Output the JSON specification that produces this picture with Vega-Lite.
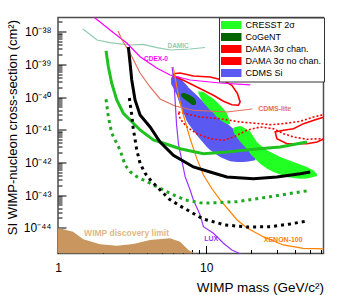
{
"$schema": "https://vega.github.io/schema/vega-lite/v6.json",
"width": 265.5, "height": 236,
"autosize": {"type": "none"},
"padding": {"left": 58, "top": 17.5, "right": 14.5, "bottom": 41.5},
"background": "white",
"config": {"font": "Liberation Sans", "view": {"stroke": "#4d4d4d", "strokeWidth": 1.5}},
"datasets": {
"wimp": [{"m":1.0,"s":9.60e-45},{"m":1.086,"s":8.95e-45},{"m":1.263,"s":7.55e-45},{"m":1.483,"s":4.42e-45},{"m":1.922,"s":3.11e-45},{"m":2.493,"s":2.82e-45},{"m":3.226,"s":3.17e-45},{"m":4.184,"s":4.21e-45},{"m":5.711,"s":4.74e-45},{"m":6.672,"s":3.73e-45},{"m":7.593,"s":2.08e-45},{"m":8.429,"s":1.62e-45}],
"cdmssi": [{"m":5.800,"hi":3.83e-40,"lo":2.51e-40},{"m":6.013,"hi":4.63e-40,"lo":1.89e-40},{"m":6.338,"hi":4.41e-40,"lo":1.13e-40},{"m":6.672,"hi":4.11e-40,"lo":5.71e-41},{"m":6.851,"hi":3.32e-40,"lo":4.39e-41},{"m":7.406,"hi":2.29e-40,"lo":1.85e-41},{"m":7.593,"hi":1.96e-40,"lo":1.53e-41},{"m":8.655,"hi":1.13e-40,"lo":6.75e-42},{"m":10.11,"hi":5.51e-41,"lo":2.96e-42},{"m":10.64,"hi":4.39e-41,"lo":2.39e-42},{"m":12.43,"hi":2.40e-41,"lo":1.46e-42},{"m":13.09,"hi":1.94e-41,"lo":1.31e-42},{"m":14.53,"hi":1.30e-41,"lo":1.08e-42},{"m":16.13,"hi":8.51e-42,"lo":1.03e-42},{"m":17.86,"hi":5.98e-42,"lo":1.03e-42},{"m":19.31,"hi":4.21e-42,"lo":1.06e-42},{"m":21.44,"hi":2.62e-42,"lo":1.16e-42},{"m":21.94,"hi":1.80e-42,"lo":1.57e-42}],
"cogent": [{"m":6.777,"hi":1.24e-40,"lo":1.08e-40},{"m":7.024,"hi":1.36e-40,"lo":9.02e-41},{"m":7.593,"hi":1.20e-40,"lo":7.05e-41},{"m":8.044,"hi":1.04e-40,"lo":5.71e-41},{"m":8.429,"hi":8.71e-41,"lo":5.71e-41},{"m":8.561,"hi":7.05e-41,"lo":6.34e-41}],
"cresst": [{"b":1,"m":8.872,"hi":1.50e-40,"lo":1.27e-40},{"b":1,"m":9.353,"hi":1.45e-40,"lo":7.95e-41},{"b":1,"m":9.590,"hi":1.43e-40,"lo":6.81e-41},{"b":1,"m":10.64,"hi":1.04e-40,"lo":3.93e-41},{"b":1,"m":11.20,"hi":8.89e-41,"lo":3.25e-41},{"b":1,"m":12.11,"hi":6.34e-41,"lo":2.17e-41},{"b":1,"m":13.09,"hi":4.39e-41,"lo":1.72e-41},{"b":1,"m":13.65,"hi":3.48e-41,"lo":1.53e-41},{"b":1,"m":14.15,"hi":2.45e-41,"lo":1.50e-41},{"b":1,"m":14.53,"hi":1.60e-41,"lo":1.50e-41},
{"b":2,"m":15.22,"hi":1.13e-41,"lo":9.13e-42},{"b":2,"m":15.71,"hi":1.21e-41,"lo":6.75e-42},{"b":2,"m":16.97,"hi":1.30e-41,"lo":4.36e-42},{"b":2,"m":17.42,"hi":1.25e-41,"lo":3.73e-42},{"b":2,"m":19.31,"hi":9.59e-42,"lo":2.31e-42},{"b":2,"m":19.83,"hi":8.81e-42,"lo":1.84e-42},{"b":2,"m":22.01,"hi":4.21e-42,"lo":1.14e-42},{"b":2,"m":23.17,"hi":3.40e-42,"lo":9.11e-43},{"b":2,"m":25.71,"hi":2.34e-42,"lo":6.50e-43},{"b":2,"m":28.49,"hi":1.87e-42,"lo":5.08e-43},{"b":2,"m":31.62,"hi":1.46e-42,"lo":4.26e-43},{"b":2,"m":35.11,"hi":1.22e-42,"lo":3.57e-43},{"b":2,"m":38.90,"hi":1.03e-42,"lo":3.33e-43},{"b":2,"m":43.17,"hi":8.61e-43,"lo":3.17e-43},{"b":2,"m":47.91,"hi":7.22e-43,"lo":3.21e-43},{"b":2,"m":53.09,"hi":5.64e-43,"lo":3.57e-43},{"b":2,"m":55.98,"hi":4.41e-43,"lo":3.83e-43}],
"damachan": [{"i":1,"m":6.498,"s":3.48e-41},{"i":2,"m":9.110,"s":2.45e-41},{"i":3,"m":12.43,"s":2.17e-41},{"i":4,"m":16.97,"s":1.72e-41},{"i":5,"m":23.17,"s":1.53e-41},{"i":6,"m":27.06,"s":1.42e-41},{"i":7,"m":33.30,"s":1.53e-41},{"i":8,"m":43.17,"s":1.81e-41},{"i":9,"m":53.09,"s":2.45e-41},{"i":10,"m":61.9,"s":2.88e-41},{"i":11,"m":74.4,"s":3.48e-41},{"i":12,"m":74.4,"s":5.57e-42},{"i":13,"m":61.9,"s":5.31e-42},{"i":14,"m":47.91,"s":5.09e-42},{"i":15,"m":38.90,"s":5.98e-42},{"i":16,"m":33.30,"s":7.55e-42},{"i":17,"m":28.49,"s":1.07e-41},{"i":18,"m":23.17,"s":1.21e-41},{"i":19,"m":18.84,"s":9.59e-42},{"i":20,"m":15.30,"s":5.98e-42},{"i":21,"m":13.09,"s":4.74e-42},{"i":22,"m":10.64,"s":5.31e-42},{"i":23,"m":8.655,"s":7.55e-42},{"i":24,"m":7.406,"s":1.21e-41},{"i":25,"m":6.672,"s":2.17e-41},{"i":26,"m":6.498,"s":3.48e-41}],
"damanochan": [{"l":1,"i":1,"m":6.013,"s":5.18e-40},{"l":1,"i":2,"m":6.672,"s":5.44e-40},{"l":1,"i":3,"m":8.208,"s":4.41e-40},{"l":1,"i":4,"m":10.64,"s":4.11e-40},{"l":1,"i":5,"m":13.09,"s":3.25e-40},{"l":1,"i":6,"m":14.92,"s":2.29e-40},{"l":1,"i":7,"m":16.28,"s":1.27e-40},{"l":1,"i":8,"m":16.97,"s":7.05e-41},{"l":1,"i":9,"m":16.53,"s":5.59e-41},{"l":1,"i":10,"m":14.92,"s":5.83e-41},{"l":1,"i":11,"m":13.09,"s":7.41e-41},{"l":1,"i":12,"m":11.20,"s":1.13e-40},{"l":1,"i":13,"m":9.590,"s":1.61e-40},{"l":1,"i":14,"m":8.208,"s":2.29e-40},{"l":1,"i":15,"m":7.024,"s":3.25e-40},{"l":1,"i":16,"m":6.173,"s":4.11e-40},{"l":1,"i":17,"m":6.013,"s":5.18e-40},
{"l":2,"i":1,"m":74.4,"s":2.63e-41},{"l":2,"i":2,"m":62.70,"s":2.45e-41},{"l":2,"i":3,"m":55.98,"s":2.08e-41},{"l":2,"i":4,"m":45.44,"s":1.53e-41},{"l":2,"i":5,"m":38.90,"s":1.07e-41},{"l":2,"i":6,"m":33.30,"s":9.59e-42},{"l":2,"i":7,"m":29.26,"s":8.51e-42},{"l":2,"i":8,"m":30.04,"s":5.31e-42},{"l":2,"i":9,"m":35.11,"s":3.73e-42},{"l":2,"i":10,"m":47.91,"s":3.73e-42},{"l":2,"i":11,"m":55.98,"s":4.21e-42},{"l":2,"i":12,"m":62.70,"s":5.31e-42},{"l":2,"i":13,"m":74.4,"s":6.42e-42}],
"damic": [{"m":1.475,"s":1.21e-38},{"m":1.835,"s":5.57e-39},{"m":2.245,"s":4.61e-39},{"m":3.065,"s":3.92e-39},{"m":3.753,"s":4.11e-39},{"m":4.666,"s":3.24e-39},{"m":5.711,"s":2.75e-39},{"m":7.797,"s":2.95e-39},{"m":9.845,"s":3.28e-39}],
"cdex": [{"m":1.724,"s":3.02e-38},{"m":1.778,"s":2.62e-38},{"m":2.245,"s":1.13e-38},{"m":2.926,"s":4.41e-39},{"m":3.582,"s":1.72e-39},{"m":4.666,"s":7.58e-40},{"m":5.711,"s":4.73e-40},{"m":7.797,"s":3.32e-40},{"m":12.43,"s":2.69e-40},{"m":19.83,"s":2.34e-40}],
"cdmslite": [{"m":2.544,"s":1.05e-38},{"m":2.707,"s":5.57e-39},{"m":3.065,"s":2.23e-39},{"m":3.582,"s":5.44e-40},{"m":4.184,"s":2.03e-40},{"m":4.890,"s":8.71e-41},{"m":6.173,"s":5.32e-41},{"m":8.208,"s":3.93e-41},{"m":13.80,"s":3.48e-41},{"m":20.46,"s":4.30e-41}],
"lux": [{"m":5.892,"s":8.31e-40},{"m":6.078,"s":2.34e-40},{"m":6.173,"s":8.11e-41},{"m":6.318,"s":1.39e-41},{"m":6.518,"s":3.40e-42},{"m":6.851,"s":1.18e-42},{"m":7.212,"s":3.65e-43},{"m":7.797,"s":1.43e-43},{"m":8.208,"s":7.06e-44},{"m":9.110,"s":2.45e-44},{"m":9.590,"s":1.07e-44},{"m":11.20,"s":6.75e-45},{"m":13.09,"s":3.33e-45},{"m":14.92,"s":2.08e-45},{"m":18.34,"s":1.36e-45}],
"xenon": [{"m":5.984,"s":8.31e-40},{"m":6.221,"s":3.32e-40},{"m":6.498,"s":1.15e-40},{"m":7.024,"s":2.82e-41},{"m":7.797,"s":5.31e-42},{"m":8.655,"s":1.30e-42},{"m":9.590,"s":4.11e-43},{"m":10.98,"s":1.53e-43},{"m":12.43,"s":7.06e-44},{"m":16.20,"s":1.72e-44},{"m":18.92,"s":9.80e-45},{"m":24.28,"s":5.31e-45},{"m":33.14,"s":2.96e-45},{"m":45.23,"s":2.34e-45},{"m":68.8,"s":2.23e-45}],
"greensolid": [{"m":2.110,"s":2.62e-39},{"m":2.187,"s":8.49e-40},{"m":2.306,"s":2.63e-40},{"m":2.493,"s":8.11e-41},{"m":2.762,"s":3.18e-41},{"m":3.065,"s":1.98e-41},{"m":3.582,"s":9.80e-42},{"m":4.405,"s":4.84e-42},{"m":4.890,"s":4.21e-42},{"m":6.672,"s":2.62e-42},{"m":9.590,"s":1.84e-42},{"m":13.80,"s":2.08e-42},{"m":20.87,"s":2.51e-42},{"m":31.62,"s":2.96e-42},{"m":47.91,"s":4.21e-42}],
"greendot": [{"m":2.110,"s":8.53e-41},{"m":2.187,"s":2.50e-41},{"m":2.306,"s":7.76e-42},{"m":2.556,"s":3.02e-42},{"m":2.624,"s":2.39e-42},{"m":2.837,"s":8.32e-43},{"m":3.065,"s":5.18e-43},{"m":3.402,"s":3.65e-43},{"m":3.771,"s":2.89e-43},{"m":4.405,"s":2.03e-43},{"m":5.147,"s":1.43e-43},{"m":5.711,"s":1.13e-43},{"m":7.212,"s":7.06e-44},{"m":9.544,"s":5.59e-44},{"m":16.20,"s":6.26e-44},{"m":27.06,"s":8.90e-44},{"m":48.89,"s":1.36e-43}],
"blacksolid": [{"m":2.985,"s":3.40e-39},{"m":3.065,"s":1.10e-39},{"m":3.147,"s":3.32e-40},{"m":3.313,"s":8.11e-41},{"m":3.582,"s":2.82e-41},{"m":4.184,"s":1.21e-41},{"m":4.890,"s":4.21e-42},{"m":6.013,"s":1.65e-42},{"m":8.208,"s":7.22e-43},{"m":10.64,"s":5.08e-43},{"m":13.80,"s":3.57e-43},{"m":20.87,"s":3.17e-43},{"m":30.04,"s":3.57e-43},{"m":43.17,"s":4.50e-43},{"m":50.43,"s":5.08e-43}],
"blackdot": [{"m":3.032,"s":9.35e-41},{"m":3.147,"s":2.82e-41},{"m":3.211,"s":1.21e-41},{"m":3.402,"s":2.39e-42},{"m":3.582,"s":9.37e-43},{"m":3.871,"s":4.63e-43},{"m":4.297,"s":2.56e-43},{"m":4.890,"s":1.43e-43},{"m":5.623,"s":7.57e-44},{"m":6.672,"s":4.62e-44},{"m":9.544,"s":1.85e-44},{"m":13.44,"s":1.21e-44},{"m":18.92,"s":1.05e-44},{"m":27.06,"s":1.07e-44},{"m":36.96,"s":1.30e-44},{"m":48.13,"s":1.61e-44}]
},
"encoding": {
 "x": {"field": "m", "type": "quantitative",
  "scale": {"type": "log", "domain": [1, 62], "nice": false},
  "axis": {"title": "WIMP mass (GeV/c²)", "values": [1,2,3,4,5,6,7,8,9,10,20,30,40,50,60],
   "labelExpr": "(datum.value==1||datum.value==10) ? datum.value+'' : ''",
   "tickSize": {"condition": {"test": "datum.value==1||datum.value==10", "value": -8}, "value": -4},
   "tickColor": "black", "labelPadding": 17, "labelFontSize": 12, "labelColor": "black",
   "labelFlush": false, "labelOverlap": false, "domain": false, "grid": false,
   "titleFontSize": 13.5, "titleFontWeight": "normal", "titleColor": "black",
   "titleAnchor": "end", "titleY": 38, "titleBaseline": "alphabetic"}},
 "y": {"field": "s", "type": "quantitative",
  "scale": {"type": "log", "domain": [1.62e-45, 2.72e-38], "nice": false},
  "axis": {"title": "SI WIMP-nucleon cross-section (cm²)",
   "values": [2e-45,3e-45,4e-45,5e-45,6e-45,7e-45,8e-45,9e-45,1e-44,2e-44,3e-44,4e-44,5e-44,6e-44,7e-44,8e-44,9e-44,1e-43,2e-43,3e-43,4e-43,5e-43,6e-43,7e-43,8e-43,9e-43,1e-42,2e-42,3e-42,4e-42,5e-42,6e-42,7e-42,8e-42,9e-42,1e-41,2e-41,3e-41,4e-41,5e-41,6e-41,7e-41,8e-41,9e-41,1e-40,2e-40,3e-40,4e-40,5e-40,6e-40,7e-40,8e-40,9e-40,1e-39,2e-39,3e-39,4e-39,5e-39,6e-39,7e-39,8e-39,9e-39,1e-38,2e-38],
   "labelExpr": "abs(log(datum.value)/LN10-round(log(datum.value)/LN10))<0.01 ? '10⁻'+['⁰','¹','²','³','⁴','⁵','⁶','⁷','⁸','⁹'][floor(-round(log(datum.value)/LN10)/10)]+['⁰','¹','²','³','⁴','⁵','⁶','⁷','⁸','⁹'][(-round(log(datum.value)/LN10))%10] : ''",
   "tickSize": {"condition": {"test": "abs(log(datum.value)/LN10-round(log(datum.value)/LN10))<0.01", "value": -8}, "value": -4},
   "tickColor": "black", "labelPadding": 15, "labelFontSize": 12, "labelColor": "black",
   "labelFlush": false, "labelOverlap": false, "domain": false, "grid": false,
   "titleFontSize": 13, "titleFontWeight": "normal", "titleColor": "black",
   "titleAngle": -90, "titleX": -46, "titleY": 2, "titleAlign": "right", "titleBaseline": "middle"}}
},
"layer": [
 {"data": {"name": "wimp"}, "mark": {"type": "area", "color": "#c8965e", "clip": true},
  "encoding": {"y2": {"datum": 1.62e-45}}},
 {"data": {"name": "cdmssi"}, "mark": {"type": "area", "clip": true},
  "encoding": {"y": {"field": "hi", "type": "quantitative"}, "y2": {"field": "lo"},
   "color": {"datum": "CDMS Si",
    "scale": {"domain": ["CRESST 2σ", "CoGeNT", "DAMA 3σ chan.", "DAMA 3σ no chan.", "CDMS Si"], "range": ["#22ff22", "#006400", "#ff0000", "#ff0000", "#5a5af2"]},
    "legend": {"title": null, "orient": "top-right", "offset": 0, "padding": 2, "strokeColor": "#333", "fillColor": "white",
     "labelFontSize": 9, "labelColor": "black", "labelOffset": 13.5, "symbolSize": 90, "rowPadding": -3,
     "symbolType": "M-1,-0.7H3V0.7H-1Z", "symbolOpacity": 1}}}},
 {"data": {"name": "cogent"}, "mark": {"type": "area", "clip": true},
  "encoding": {"y": {"field": "hi", "type": "quantitative"}, "y2": {"field": "lo"}, "color": {"datum": "CoGeNT"}}},
 {"data": {"name": "cresst"}, "mark": {"type": "area", "clip": true},
  "encoding": {"y": {"field": "hi", "type": "quantitative"}, "y2": {"field": "lo"}, "color": {"datum": "CRESST 2σ"}, "detail": {"field": "b"}}},
 {"data": {"name": "damachan"}, "mark": {"type": "line", "clip": true, "strokeWidth": 1.6, "strokeDash": [2, 2]},
  "encoding": {"color": {"datum": "DAMA 3σ chan."}, "order": {"field": "i"}}},
 {"data": {"name": "damanochan"}, "mark": {"type": "line", "clip": true, "strokeWidth": 1.6},
  "encoding": {"color": {"datum": "DAMA 3σ no chan."}, "order": {"field": "i"}, "detail": {"field": "l"}}},
 {"data": {"name": "damic"}, "mark": {"type": "line", "clip": true, "strokeWidth": 1.2, "color": "#8fcbae"}, "encoding": {}},
 {"data": {"name": "cdex"}, "mark": {"type": "line", "clip": true, "strokeWidth": 1.2, "color": "#ff00ff"}, "encoding": {}},
 {"data": {"name": "cdmslite"}, "mark": {"type": "line", "clip": true, "strokeWidth": 1.2, "color": "#e0705a"}, "encoding": {}},
 {"data": {"name": "lux"}, "mark": {"type": "line", "clip": true, "strokeWidth": 1.2, "color": "#9933ff"}, "encoding": {}},
 {"data": {"name": "xenon"}, "mark": {"type": "line", "clip": true, "strokeWidth": 1.2, "color": "#ff8000"}, "encoding": {}},
 {"data": {"name": "greensolid"}, "mark": {"type": "line", "clip": true, "strokeWidth": 3, "color": "#1fc21f"}, "encoding": {}},
 {"data": {"name": "greendot"}, "mark": {"type": "line", "clip": true, "strokeWidth": 3, "strokeDash": [3, 4], "color": "#1fa81f"}, "encoding": {}},
 {"data": {"name": "blacksolid"}, "mark": {"type": "line", "clip": true, "strokeWidth": 3, "color": "black"}, "encoding": {}},
 {"data": {"name": "blackdot"}, "mark": {"type": "line", "clip": true, "strokeWidth": 3, "strokeDash": [3, 4], "color": "black"}, "encoding": {}},
 {"data": {"values": [{"t": "DAMIC", "m": 6.47, "s": 3.65e-39}]}, "mark": {"type": "text", "fontSize": 6.5, "fontWeight": "bold", "color": "#8fcbae"}, "encoding": {"text": {"field": "t"}}},
 {"data": {"values": [{"t": "CDEX-0", "m": 4.59, "s": 1.46e-39}]}, "mark": {"type": "text", "fontSize": 6.5, "fontWeight": "bold", "color": "#ff00ff"}, "encoding": {"text": {"field": "t"}}},
 {"data": {"values": [{"t": "CDMS-lite", "m": 22.46, "s": 4.30e-41}]}, "mark": {"type": "text", "fontSize": 7, "fontWeight": "bold", "align": "left", "color": "#e0705a"}, "encoding": {"text": {"field": "t"}}},
 {"data": {"values": [{"t": "LUX", "m": 10.81, "s": 4.52e-45}]}, "mark": {"type": "text", "fontSize": 7, "fontWeight": "bold", "color": "#9933ff"}, "encoding": {"text": {"field": "t"}}},
 {"data": {"values": [{"t": "XENON-100", "m": 33.14, "s": 4.21e-45}]}, "mark": {"type": "text", "fontSize": 7, "fontWeight": "bold", "color": "#ff8000"}, "encoding": {"text": {"field": "t"}}},
 {"data": {"values": [{"t": "WIMP discovery limit", "m": 2.903, "s": 6.89e-45}]}, "mark": {"type": "text", "fontSize": 8.5, "fontWeight": "bold", "color": "#e0b887"}, "encoding": {"text": {"field": "t"}}}
]
}
